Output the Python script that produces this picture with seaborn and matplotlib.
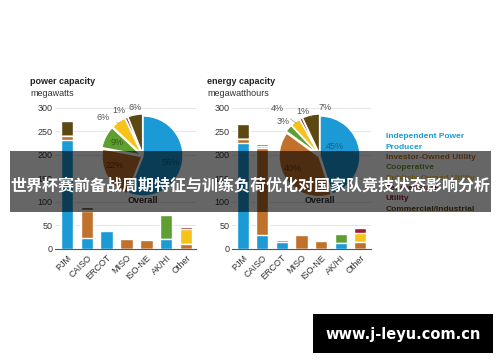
import numpy as np
import matplotlib
matplotlib.use("Agg")
import matplotlib.pyplot as plt
import seaborn as sns
from matplotlib.patches import Rectangle

# regions on the x axis
regions = ["PJM", "CAISO", "ERCOT", "MISO", "ISO-NE", "AK/HI", "Other"]
owners = ["Independent Power\nProducer", "Investor-Owned Utility", "Cooperative",
          "Publicly Owned Utility", "Federal/State\nUtility", "Commercial/Industrial"]

# power capacity (megawatts), one list per owner type, bottom -> top
power_ipp = [232, 23, 38, 0, 0, 21, 0]
power_iou = [8, 57, 3, 21, 20, 0, 10]
power_coop = [0, 0, 0, 0, 0, 51, 0]
power_public = [0, 3, 0, 0, 0, 0, 33]
power_federal = [0, 0, 0, 0, 0, 0, 3]
power_comm = [32, 6, 0, 0, 0, 0, 0]

# energy capacity (megawatthours)
energy_ipp = [225, 30, 15, 0, 0, 12, 0]
energy_iou = [9, 185, 4, 29, 17, 0, 14]
energy_coop = [0, 0, 0, 0, 0, 19, 0]
energy_public = [0, 3, 0, 0, 0, 0, 19]
energy_federal = [0, 0, 0, 0, 0, 0, 11]
energy_comm = [32, 5, 0, 0, 2, 0, 0]

# overall shares (%) shown in the pies
power_share = [56, 22, 9, 6, 1, 6]
energy_share = [45, 40, 3, 4, 1, 7]

colors = ["#1b9ad6", "#c0712b", "#5f9e30", "#f5c31a", "#9b1b30", "#5c4813"]
text_dark = ["#155f8c", "#6e3c12", "#2f5a17", "#8a6a00", "#6b1020", "#3b2d08"]

sns.set_style("white")
plt.rcParams["font.family"] = ["Liberation Sans", "DejaVu Sans"]

W, H = 500, 362
fig = plt.figure(figsize=(5, 3.62), dpi=100)
fig.patch.set_facecolor("white")


def px(x0, y_top, w, h):
    # pixel box (from top-left) -> figure fraction rect
    return [x0 / W, 1 - (y_top + h) / H, w / W, h / H]


def draw_bars(ax, layers, xlim):
    cum = np.zeros(len(regions))
    tops = []
    for vals in layers:
        cum = cum + np.array(vals)
        tops.append(cum.copy())
    for top, color in reversed(list(zip(tops, colors))):
        sns.barplot(x=regions, y=top, color=color, saturation=1, width=0.62,
                    errorbar=None, ax=ax, zorder=3)
    ax.set_ylim(0, 310)
    ax.set_xlim(*xlim)
    ax.set_yticks(range(0, 301, 50))
    ax.yaxis.grid(True, color="#e2e2e2", lw=0.6, zorder=0)
    ax.set_axisbelow(True)
    sns.despine(ax=ax, left=True)
    ax.spines["bottom"].set_color("#555555")
    ax.spines["bottom"].set_linewidth(0.8)
    ax.tick_params(length=0, labelsize=6.5, colors="#333333", pad=2)
    ax.tick_params(axis="x", pad=3)
    for lab in ax.get_xticklabels():
        lab.set_rotation(45)
        lab.set_ha("right")
        lab.set_rotation_mode("anchor")
    ax.set_xlabel("")
    ax.set_ylabel("")


def draw_pie(cx, cy, r, shares, nudge, dist, lead):
    ax = fig.add_axes(px(cx - 1.5 * r, cy - 1.5 * r, 3 * r, 3 * r))
    wedges, _ = ax.pie(shares, colors=colors, startangle=90, counterclock=False,
                       explode=[0, 0.03, 0.05, 0.05, 0.05, 0.05],
                       wedgeprops=dict(edgecolor="white", linewidth=1))
    ax.set_xlim(-1.5, 1.5)
    ax.set_ylim(-1.5, 1.5)
    ax.axis("off")
    for i, w in enumerate(wedges):
        mid = np.deg2rad((w.theta1 + w.theta2) / 2 + nudge[i])
        tx, ty = dist[i] * np.cos(mid), dist[i] * np.sin(mid)
        if lead[i]:
            m0 = np.deg2rad((w.theta1 + w.theta2) / 2)
            ax.annotate(f"{shares[i]}%", xy=(np.cos(m0), np.sin(m0)), xytext=(tx, ty),
                        ha="center", va="center", fontsize=6.5, color="#555555",
                        arrowprops=dict(arrowstyle="-", color="#999999", lw=0.5,
                                        shrinkA=3, shrinkB=0))
        else:
            c = text_dark[i] if dist[i] < 1 else "#555555"
            ax.text(tx, ty, f"{shares[i]}%", ha="center", va="center",
                    fontsize=6.5, color=c)
    ax.text(0, -1.12, "Overall", ha="center", va="center", fontsize=6.5,
            fontweight="bold", color="#333333")


ax1 = fig.add_axes(px(55, 103, 141, 146))
draw_bars(ax1, [power_ipp, power_iou, power_coop, power_public, power_federal, power_comm],
          (-0.6, 6.5))
ax2 = fig.add_axes(px(232, 103, 139, 146))
draw_bars(ax2, [energy_ipp, energy_iou, energy_coop, energy_public, energy_federal, energy_comm],
          (-0.55, 6.55))

draw_pie(143, 156, 40, power_share,
         nudge=[-2, -10, 0, 10, 5, -2], dist=[0.7, 0.74, 0.73, 1.4, 1.28, 1.22],
         lead=[False, False, False, True, True, False])
draw_pie(320, 156, 40, energy_share,
         nudge=[22, -12, -2, 6, -6, -18], dist=[0.44, 0.74, 1.25, 1.6, 1.2, 1.23],
         lead=[False, False, False, True, True, True])

# panel titles
fig.text(30 / W, 1 - 82 / H, "power capacity", fontsize=6.5, fontweight="bold",
         color="#222222", va="center")
fig.text(30 / W, 1 - 93 / H, "megawatts", fontsize=6.5, color="#333333", va="center")
fig.text(207 / W, 1 - 82 / H, "energy capacity", fontsize=6.5, fontweight="bold",
         color="#222222", va="center")
fig.text(207 / W, 1 - 93 / H, "megawatthours", fontsize=6.5, color="#333333", va="center")

# legend as coloured text
y = 137
for name, c in zip(owners, colors):
    for line in name.split("\n"):
        fig.text(386 / W, 1 - y / H, line, fontsize=6, fontweight="bold",
                 color=c, va="center")
        y += 10.3

# dark caption band with title
fig.add_artist(Rectangle((10 / W, 1 - 212 / H), 481 / W, 61 / H,
                         transform=fig.transFigure, facecolor="black",
                         alpha=0.6, edgecolor="none", zorder=10))
fig.text(250 / W, 1 - 185 / H, "世界杯赛前备战周期特征与训练负荷优化对国家队竞技状态影响分析",
         ha="center", va="center", fontsize=11.5, fontweight="bold", color="white",
         family=["Noto Sans CJK SC", "DejaVu Sans"], zorder=11)

# watermark box
fig.add_artist(Rectangle((313 / W, 1 - 353 / H), 180 / W, 39 / H,
                         transform=fig.transFigure, facecolor="black",
                         edgecolor="none", zorder=10))
fig.text(403 / W, 1 - 334 / H, "www.j-leyu.com.cn", ha="center", va="center",
         fontsize=10.5, fontweight="bold", color="white",
         family=["DejaVu Sans"], zorder=11)

fig.savefig("out.png", dpi=100, facecolor="white")
